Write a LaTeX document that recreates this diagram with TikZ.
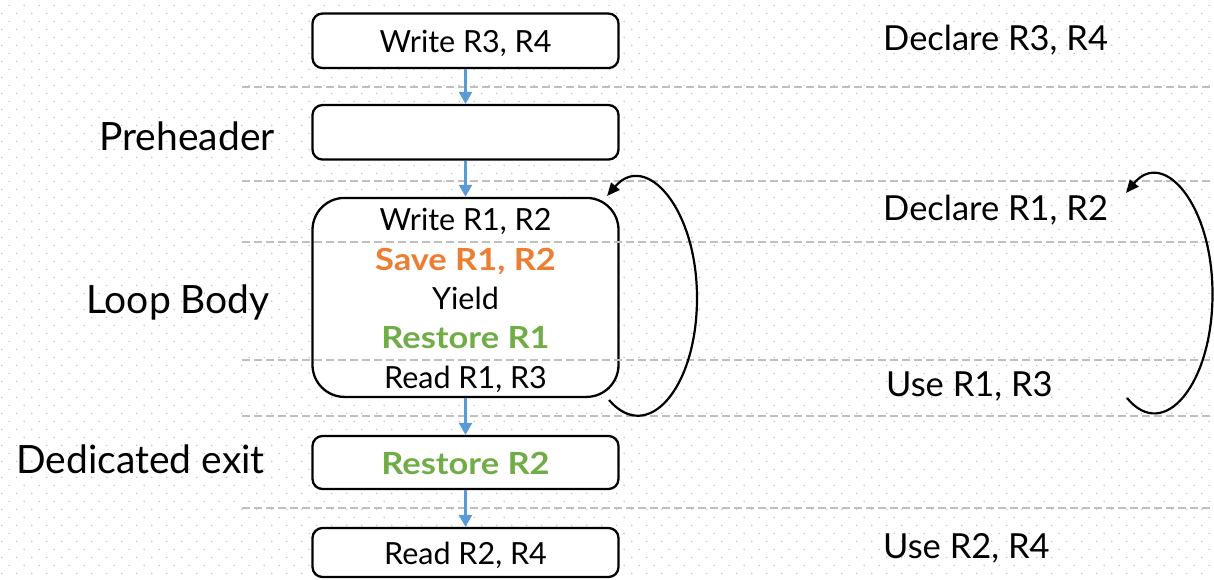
\documentclass[tikz,border=0pt]{standalone}
\usepackage{fontspec}
\setmainfont{Lato}
\usetikzlibrary{arrows.meta}

\definecolor{flowblue}{HTML}{5B9BD5}
\definecolor{saveorange}{HTML}{ED7D31}
\definecolor{restoregreen}{HTML}{70AD47}
\definecolor{bandgray}{HTML}{BFBFBF}
\definecolor{dotgray}{HTML}{C0C0C0}

% wide bold lettering
\newcommand{\widebold}[1]{\scalebox{1.13}[1]{\bfseries #1}}

\begin{document}
\begin{tikzpicture}[x=1pt,y=-1pt,
  blk/.style={draw=black, line width=2.3pt, fill=white, rounded corners=10pt,
    minimum width=306pt, inner sep=0pt, text height=24pt, text depth=0pt,
    font=\fontsize{30.5}{36}\selectfont},
  boxtxt/.style={anchor=base, inner sep=0pt, font=\fontsize{30.5}{36}\selectfont},
  sidelbl/.style={anchor=base east, inner sep=0pt, font=\fontsize{39}{46}\selectfont},
  notelbl/.style={anchor=base west, inner sep=0pt, font=\fontsize{34.5}{40}\selectfont},
  band/.style={draw=bandgray, line width=2pt, dash pattern=on 8pt off 4pt},
  flow/.style={draw=flowblue, line width=2.3pt, -{Triangle[length=12pt,width=13pt]}},
  backedge/.style={draw=black, line width=2.2pt, -{Triangle[length=13pt,width=11pt]}},
  saved/.style={text=saveorange},
  restored/.style={text=restoregreen}]

\useasboundingbox (0,0) rectangle (1214,579);
\fill[white] (0,0) rectangle (1214,579);

% staggered dot grid in the background, one path per row
\foreach \r in {0,...,72} {
  \pgfmathsetmacro{\xoff}{mod(\r,2) == 0 ? 9.2 : 1.7}
  \fill[dotgray] \foreach \c in {0,...,80} {
      ({15*\c + \xoff}, {8*\r + 5.3}) circle[radius=0.8pt]
    };
}

% control-flow blocks
\node[blk, minimum height=54.5pt] (w34) at (465.5,40.8) {Write R3, R4};
\node[blk, minimum height=54.5pt] (pre) at (465.5,132.3) {};
\node[blk, rounded corners=32pt, minimum height=199pt] (body) at (465.5,297.4) {};
\node[blk, minimum height=53pt, text=restoregreen] (exit) at (465.5,462.5) {\widebold{Restore R2}};
\node[blk, minimum height=49pt] (r24) at (465.5,552.5) {Read R2, R4};

% contents of the loop body
\node[boxtxt] (bw) at (465.5,230) {Write R1, R2};
\node[boxtxt, saved] (bs) at (465.5,270) {\widebold{Save R1, R2}};
\node[boxtxt] (by) at (465.5,309) {Yield};
\node[boxtxt, restored] (br) at (465.5,348) {\widebold{Restore R1}};
\node[boxtxt] (brd) at (465.5,388) {Read R1, R3};

% region separators
\foreach \yy in {87,180.5,241.5,360,415.5,508}
  \draw[band] (242,\yy) -- (1214,\yy);

% block names
\node[sidelbl] (lpre) at (275,150) {Preheader};
\node[sidelbl] (lbody) at (270,313) {Loop Body};
\node[sidelbl] (lexit) at (265,473) {Dedicated exit};

% register notes
\node[notelbl] (n1) at (883,50.7) {Declare R3, R4};
\node[notelbl] (n2) at (883,220.7) {Declare R1, R2};
\node[notelbl] (n3) at (886,396.7) {Use R1, R3};
\node[notelbl] (n4) at (883,558) {Use R2, R4};

% edges
\draw[flow] (w34.south) -- (pre.north);
\draw[flow] (pre.south) -- (body.north);
\draw[flow] (body.south) -- (exit.north);
\draw[flow] (exit.south) -- (r24.north);

% back edge of the loop
\coordinate (lbout) at (609,400);
\coordinate (lbfar) at (697,298);
\coordinate (lbin) at (607,196);
\draw[backedge] (lbout) .. controls +(38.7,45) and +(0,90) .. (lbfar)
  .. controls +(0,-90) and +(38.7,-45) .. (lbin);

% lifetime loop beside the notes
\coordinate (rbout) at (1127,398);
\coordinate (rbfar) at (1212.5,294);
\coordinate (rbin) at (1126,193);
\draw[backedge] (rbout) .. controls +(37,45) and +(0,90) .. (rbfar)
  .. controls +(0,-90) and +(37,-45) .. (rbin);
\end{tikzpicture}
\end{document}
